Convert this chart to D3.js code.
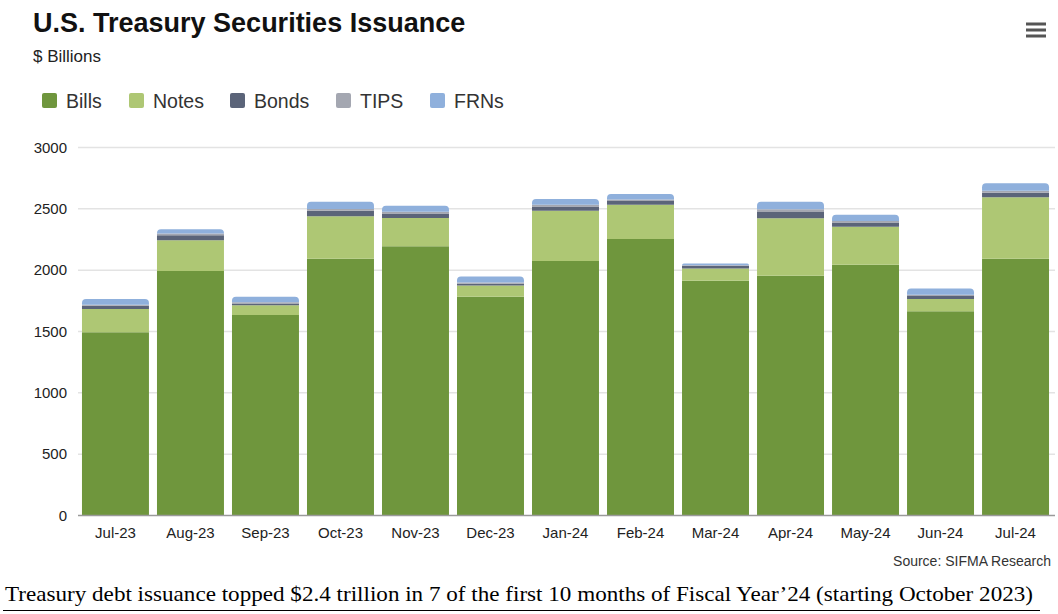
<!DOCTYPE html>
<html><head><meta charset="utf-8">
<script src="https://cdn.jsdelivr.net/npm/d3@7"></script>
<style>body{margin:0;background:#fff}svg{display:block}</style>
</head><body>
<svg id="c" width="1058" height="614"></svg>
<script>
const categories = ["Jul-23","Aug-23","Sep-23","Oct-23","Nov-23","Dec-23","Jan-24","Feb-24","Mar-24","Apr-24","May-24","Jun-24","Jul-24"];
const bills = [1490,1990,1630,2090,2190,1780,2070,2250,1910,1950,2040,1660,2090];
const notes = [190,250,80,345,232,90,410,280,100,470,310,100,500];
const bonds = [25,40,15,45,35,15,35,30,20,50,35,25,37];
const tips  = [10,15,10,15,15,10,15,12,5,22,12,10,17];
const frns  = [45,35,45,58,50,50,47,45,15,62,50,52,60];
const seriesNames = ["Bills","Notes","Bonds","TIPS","FRNs"];
const yTicks = [0,500,1000,1500,2000,2500,3000];
const colors = ["#6f963d","#aec774","#5b6479","#a4a7b1","#8fb0dc"];

const svg = d3.select("#c");
const F = "'Liberation Sans', Arial, sans-serif";
svg.append("text").attr("x",33).attr("y",32).attr("font-family",F).attr("font-weight","bold").attr("font-size",27).attr("fill","#111").text("U.S. Treasury Securities Issuance");
svg.append("text").attr("x",33).attr("y",62).attr("font-family",F).attr("font-size",17).attr("fill","#222").text("$ Billions");

// menu icon
[24,30,36].forEach(y=>svg.append("rect").attr("x",1026).attr("y",y-1.5).attr("width",20).attr("height",3).attr("fill","#555"));

// legend
const legX = [42,129,230,336,430];
seriesNames.forEach((n,i)=>{
  svg.append("rect").attr("x",legX[i]).attr("y",93).attr("width",15).attr("height",15).attr("rx",2).attr("fill",colors[i]);
  svg.append("text").attr("x",legX[i]+24).attr("y",108).attr("font-family",F).attr("font-size",19.5).attr("fill","#333").text(n);
});

const x = d3.scaleBand().domain(categories).range([78,1053]).paddingInner(0.107).paddingOuter(0.053);
const y = d3.scaleLinear().domain([0,3000]).range([515,147]);

// gridlines
svg.append("g").selectAll("line").data(yTicks.slice(1)).join("line")
  .attr("x1",78).attr("x2",1055).attr("y1",d=>y(d)+0.5).attr("y2",d=>y(d)+0.5).attr("stroke","#e3e3e3").attr("stroke-width",1.5);

const yAxis = d3.axisLeft(y).tickValues(yTicks).tickFormat(d3.format("d")).tickSize(0).tickPadding(0);
const gy = svg.append("g").attr("transform","translate(67,0)").call(yAxis);
gy.select(".domain").remove();
gy.selectAll("text").attr("font-family",F).attr("font-size",15).attr("fill","#222").attr("dy","0.35em");

const data = categories.map((c,i)=>({cat:c,Bills:bills[i],Notes:notes[i],Bonds:bonds[i],TIPS:tips[i],FRNs:frns[i]}));
const stacked = d3.stack().keys(seriesNames)(data);

function roundTop(x0,y0,w,h,r){
  r=Math.min(r,h);
  return `M${x0},${y0+h}V${y0+r}Q${x0},${y0} ${x0+r},${y0}H${x0+w-r}Q${x0+w},${y0} ${x0+w},${y0+r}V${y0+h}Z`;
}
stacked.forEach((s,si)=>{
  svg.append("g").selectAll("path").data(s).join("path")
    .attr("fill",colors[si])
    .attr("d",d=>{
      const x0=x(d.data.cat), w=x.bandwidth(), y0=y(d[1]), h=y(d[0])-y(d[1]);
      return si===seriesNames.length-1 ? roundTop(x0,y0,w,h,4) : `M${x0},${y0}h${w}v${h}h${-w}Z`;
    });
});

// baseline
svg.append("line").attr("x1",78).attr("x2",1055).attr("y1",515.5).attr("y2",515.5).attr("stroke","#9a9a9a").attr("stroke-width",1.5);

const xAxis = d3.axisBottom(x).tickSize(0).tickPadding(0);
const gx = svg.append("g").attr("transform","translate(0,527)").call(xAxis);
gx.select(".domain").remove();
gx.selectAll("text").attr("font-family",F).attr("font-size",15).attr("fill","#222").attr("dy","0.71em");

svg.append("text").attr("x",1051).attr("y",566).attr("text-anchor","end").attr("font-family",F).attr("font-size",14).attr("fill","#333").text("Source: SIFMA Research");

svg.append("text").attr("x",5).attr("y",601).attr("font-family","'Liberation Serif','Times New Roman',serif").attr("font-size",22)
  .attr("textLength",1028).attr("lengthAdjust","spacingAndGlyphs").attr("fill","#000")
  .text("Treasury debt issuance topped $2.4 trillion in 7 of the first 10 months of Fiscal Year’24 (starting October 2023)");
svg.append("line").attr("x1",3).attr("x2",1040).attr("y1",610.5).attr("y2",610.5).attr("stroke","#000").attr("stroke-width",1.2);
</script>
</body></html>
